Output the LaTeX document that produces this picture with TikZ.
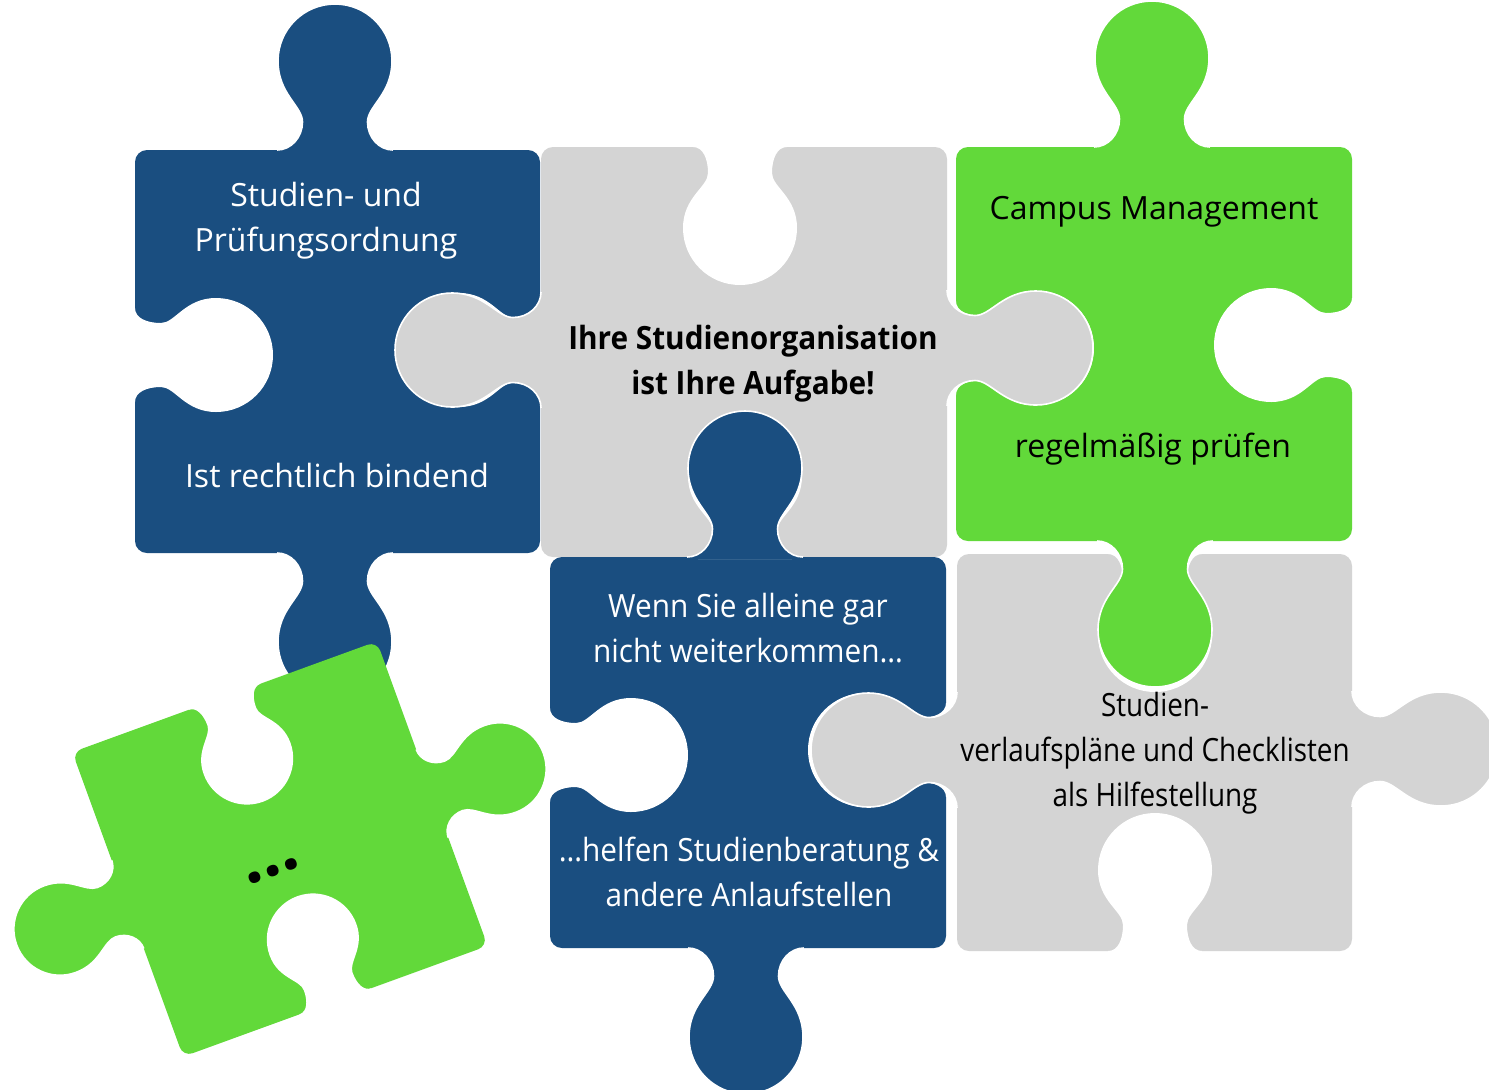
\documentclass[tikz,border=0pt]{standalone}
\usepackage{fontspec}
\setmainfont{Open Sans}
\newfontfamily\narrowfont[FakeStretch=0.87]{Open Sans}
\newfontfamily\midfont[FakeStretch=0.93]{Open Sans}
\newfontfamily\titlefont[FakeStretch=0.93]{Open Sans}
\definecolor{pblue}{HTML}{1A4E80}
\definecolor{pgreen}{HTML}{62D93A}
\definecolor{pgray}{HTML}{D4D4D4}
\newcommand\tabpath{(-58,0) .. controls (-44,0) and (-32.5,12.6) .. (-32.5,28) .. controls (-32.5,44) and (-57,56) .. (-57,89) .. controls (-57,120.5) and (-31.5,146) .. (0,146) .. controls (31.5,146) and (57,120.5) .. (57,89) .. controls (57,56) and (32.5,44) .. (32.5,28) .. controls (32.5,12.6) and (44,0) .. (58,0)}
\newcommand\holepath{(-47,0) .. controls (-37,0) and (-32,11.7) .. (-32,26) .. controls (-32,40) and (-57,50) .. (-57,81) .. controls (-57,112.5) and (-31.5,138) .. (0,138) .. controls (31.5,138) and (57,112.5) .. (57,81) .. controls (57,50) and (32,40) .. (32,26) .. controls (32,11.7) and (37,0) .. (47,0)}
\tikzset{
  eU/.style={x={(0.5pt,0pt)},y={(0pt,0.5pt)}},
  eD/.style={x={(0.5pt,0pt)},y={(0pt,-0.5pt)}},
  eL/.style={x={(0pt,0.5pt)},y={(-0.5pt,0pt)}},
  eR/.style={x={(0pt,0.5pt)},y={(0.5pt,0pt)}},
  body/.style={rounded corners=6pt},
  lbl/.style={align=center, font=\fontsize{16}{22.5}\selectfont, inner sep=0pt},
}
\newcommand\Tab[4]{\begin{scope}[shift={(#1,#2)},#3]\fill[#4] \tabpath -- (58,-2) -- (-58,-2) -- cycle; \draw[white,line width=0.8pt] \tabpath;\end{scope}}
\newcommand\Hole[3]{\begin{scope}[shift={(#1,#2)},#3]\fill[white] \holepath -- (47,-2) -- (-47,-2) -- cycle;\end{scope}}
\begin{document}
\begin{tikzpicture}[x=0.5pt,y=-0.5pt]
\useasboundingbox (0,0) rectangle (1489,1089);
\fill[white] (0,0) rectangle (1489,1089);
% bodies
\fill[pblue,body] (135,150) rectangle (540,553);
\fill[pgray,body] (541,147) rectangle (947,557);
\fill[pgreen,body] (956,147) rectangle (1352,541);
\fill[pblue,body] (550,557) rectangle (946,948);
\fill[pgray,body] (957,554) rectangle (1352,951);
% blanks
\Hole{135}{355}{eR}
\Hole{540}{350}{eL}
\Hole{740}{147}{eD}
\Hole{745}{557}{eU}
\Hole{956}{348}{eR}
\Hole{1352}{345}{eL}
\Hole{550}{755}{eR}
\Hole{946}{750}{eL}
\Hole{1155}{554}{eD}
\Hole{1155}{951}{eU}
% tabs
\Tab{335}{150}{eU}{pblue}
\Tab{335}{553}{eD}{pblue}
\Tab{541}{350}{eL}{pgray}
\Tab{947}{348}{eR}{pgray}
\Tab{1152}{147}{eU}{pgreen}
\Tab{1155}{541}{eD}{pgreen}
\Tab{745}{557}{eU}{pblue}
\Tab{746}{948}{eD}{pblue}
\Tab{957}{750}{eL}{pgray}
\Tab{1352}{749}{eR}{pgray}
% loose piece
\begin{scope}[shift={(280,849)},rotate=20,scale=0.81]
  \fill[pgreen,rounded corners=5pt] (-200,-200) rectangle (200,200);
  \Hole{0}{-200}{eD}
  \Hole{0}{200}{eU}
  \Tab{200}{0}{eR}{pgreen}
  \Tab{-200}{0}{eL}{pgreen}
\end{scope}
% labels
\node[lbl,text=white] (t1a) at (326,221) {Studien- und\\Prüfungsordnung};
\node[lbl,text=white] (t1b) at (337,475) {Ist rechtlich bindend};
\node[lbl,font=\titlefont\bfseries\fontsize{16}{22.5}\selectfont] (t2) at (753,364) {Ihre Studienorganisation\\ist Ihre Aufgabe!};
\node[lbl] (t3a) at (1154,212) {Campus Management};
\node[lbl] (t3b) at (1153,449) {regelmäßig prüfen};
\node[lbl,text=white,font=\midfont\fontsize{16}{22.5}\selectfont] (t4a) at (748,628) {Wenn Sie alleine gar\\nicht weiterkommen…};
\node[lbl,text=white,font=\midfont\fontsize{16}{22.5}\selectfont] (t4b) at (749,872) {…helfen Studienberatung \&\\andere Anlaufstellen};
\node[lbl,font=\narrowfont\fontsize{16}{22.5}\selectfont] (t5) at (1155,753) {Studien-\\verlaufspläne und Checklisten\\als Hilfestellung};
\node[rotate=20,anchor=base,inner sep=0pt,font=\bfseries\fontsize{34}{34}\selectfont] (t6) at (275,876) {…};
\end{tikzpicture}
\end{document}
